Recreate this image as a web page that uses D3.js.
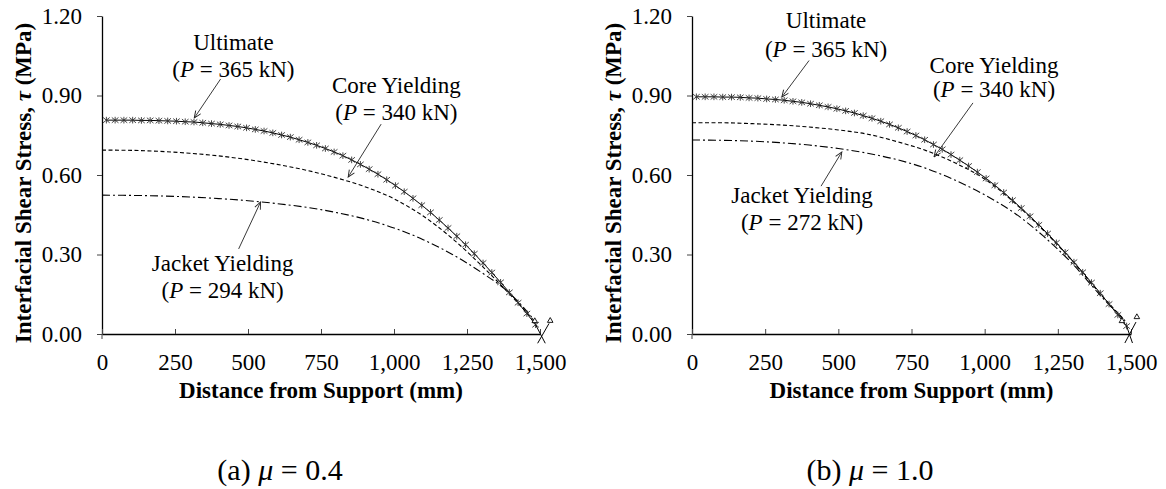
<!DOCTYPE html>
<html>
<head>
<meta charset="utf-8">
<script src="https://cdn.jsdelivr.net/npm/d3@7"></script>
<style>
  body { margin: 0; background: #fff; }
  svg text { font-family: "Liberation Serif", "Times New Roman", serif; fill: #000; }
</style>
</head>
<body>
<svg id="chart" width="1166" height="489"></svg>
<script>
// ---- data ----
const xTicks = [0, 250, 500, 750, 1000, 1250, 1500];
const yTicks = [0, 0.3, 0.6, 0.9, 1.2];

// ultimate curve stations (mm) and shear stress (MPa)
const ultDist = [15, 45, 75, 105, 135, 165, 195, 225, 255, 285, 315, 345, 375, 405, 435, 465, 495,
  525, 555, 585, 615, 645, 675, 705, 735, 765, 795, 825, 855, 885, 915, 945, 975, 1005, 1035,
  1065, 1095, 1125, 1155, 1185, 1215, 1245, 1275, 1305, 1335, 1365, 1395, 1425, 1455, 1485];
const ultTauA = [0.807, 0.807, 0.807, 0.807, 0.806, 0.806, 0.805, 0.804, 0.803, 0.801, 0.800,
  0.797, 0.794, 0.791, 0.787, 0.783, 0.778, 0.772, 0.766, 0.759, 0.751, 0.743, 0.733, 0.723,
  0.712, 0.700, 0.687, 0.673, 0.657, 0.640, 0.622, 0.603, 0.582, 0.560, 0.537, 0.512, 0.486,
  0.459, 0.430, 0.400, 0.369, 0.337, 0.303, 0.268, 0.232, 0.195, 0.157, 0.118, 0.077, 0.035];
const ultTauB = [0.895, 0.895, 0.895, 0.894, 0.894, 0.893, 0.891, 0.890, 0.887, 0.885, 0.882,
  0.878, 0.874, 0.869, 0.863, 0.857, 0.850, 0.842, 0.834, 0.824, 0.814, 0.803, 0.791, 0.778,
  0.764, 0.749, 0.733, 0.715, 0.697, 0.677, 0.656, 0.634, 0.611, 0.587, 0.561, 0.534, 0.505,
  0.475, 0.444, 0.412, 0.379, 0.344, 0.308, 0.271, 0.233, 0.194, 0.154, 0.113, 0.072, 0.030];

// yielding curves
const yieldDist = [0, 100, 200, 300, 400, 500, 600, 700, 800, 900, 1000, 1100, 1200, 1300, 1400, 1480];
const coreTauA = [0.694, 0.693, 0.689, 0.682, 0.672, 0.658, 0.640, 0.618, 0.590, 0.556, 0.510,
  0.445, 0.360, 0.258, 0.146, 0.050];
const jacketTauA = [0.524, 0.523, 0.521, 0.517, 0.511, 0.503, 0.492, 0.478, 0.459, 0.434, 0.400,
  0.356, 0.300, 0.232, 0.150, 0.053];
const coreTauB = [0.797, 0.797, 0.794, 0.789, 0.781, 0.770, 0.754, 0.726, 0.692, 0.645, 0.585,
  0.497, 0.392, 0.275, 0.145, 0.050];
const jacketTauB = [0.732, 0.731, 0.728, 0.722, 0.713, 0.700, 0.682, 0.658, 0.625, 0.580, 0.525,
  0.458, 0.370, 0.265, 0.140, 0.050];

// odd end marks near the support at 1,500 mm
const endTriA = [[1482, 0.049], [1535, 0.050]];
const endTriB = [[1469, 0.049], [1520, 0.064]];
const crossA = [[[1531, 0.040], [1492, -0.035]], [[1485, 0.035], [1518, -0.035]]];
const crossB = [[[1517, 0.045], [1479, -0.034]], [[1485, 0.030], [1505, -0.034]]];

// annotations: label, load, text centre x, baselines, arrow from -> to (data units)
const notesA = [
  { label: "Ultimate", load: "365", x: 450, y1: 1.072, y2: 0.970, from: [406, 0.962], to: [316, 0.815] },
  { label: "Core Yielding", load: "340", x: 1008, y1: 0.909, y2: 0.808, from: [956, 0.792], to: [843, 0.592] },
  { label: "Jacket Yielding", load: "294", x: 413, y1: 0.238, y2: 0.136, from: [468, 0.321], to: [543, 0.498] }
];
const notesB = [
  { label: "Ultimate", load: "365", x: 458, y1: 1.155, y2: 1.045, from: [400, 1.032], to: [307, 0.894] },
  { label: "Core Yielding", load: "340", x: 1032, y1: 0.985, y2: 0.894, from: [960, 0.872], to: [827, 0.668] },
  { label: "Jacket Yielding", load: "272", x: 376, y1: 0.494, y2: 0.392, from: [441, 0.558], to: [512, 0.687] }
];

const panels = [
  { left: 102, right: 540, caption: "(a) ", mu: "0.4", capX: 280,
    ult: ultTauA, core: coreTauA, jacket: jacketTauA, tri: endTriA, cross: crossA, notes: notesA },
  { left: 692, right: 1131, caption: "(b) ", mu: "1.0", capX: 870,
    ult: ultTauB, core: coreTauB, jacket: jacketTauB, tri: endTriB, cross: crossB, notes: notesB }
];

const plotTop = 16, plotBottom = 334;
const svg = d3.select("#chart");

svg.append("defs").append("marker")
  .attr("id", "arrow")
  .attr("viewBox", "-9 -5 10 10")
  .attr("refX", 0).attr("refY", 0)
  .attr("markerWidth", 10).attr("markerHeight", 10)
  .attr("markerUnits", "userSpaceOnUse")
  .attr("orient", "auto")
  .append("path")
  .attr("d", "M-7,-3L0,0L-7,3")
  .attr("fill", "none")
  .attr("stroke", "#222")
  .attr("stroke-width", 0.9);

// asterisk-like marker
const starMark = {
  draw(ctx, size) {
    const r = Math.sqrt(size) / 2;
    ctx.moveTo(-r, -r * 0.8); ctx.lineTo(r, r * 0.8);
    ctx.moveTo(-r, r * 0.8); ctx.lineTo(r, -r * 0.8);
    ctx.moveTo(0, -r); ctx.lineTo(0, r);
  }
};

panels.forEach((p) => {
  const x = d3.scaleLinear([0, 1500], [p.left, p.right]);
  const y = d3.scaleLinear([0, 1.2], [plotBottom, plotTop]);
  const g = svg.append("g");

  // axes
  const yAxis = g.append("g")
    .attr("transform", `translate(${p.left},0)`)
    .call(d3.axisLeft(y).tickValues(yTicks).tickFormat(d3.format(".2f"))
      .tickSizeInner(5).tickSizeOuter(0).tickPadding(15));
  const xAxis = g.append("g")
    .attr("transform", `translate(0,${plotBottom})`)
    .call(d3.axisBottom(x).tickValues(xTicks).tickFormat(d3.format(","))
      .tickSizeInner(-5).tickSizeOuter(0).tickPadding(20));
  [yAxis, xAxis].forEach((a) => {
    a.select(".domain").attr("stroke", "#000").attr("stroke-width", 1.3);
    a.selectAll(".tick line").attr("stroke", "#444").attr("stroke-width", 1);
    a.selectAll(".tick text").attr("font-size", 23)
      .attr("font-family", "'Liberation Serif', 'Times New Roman', serif");
  });
  g.append("line")
    .attr("x1", p.left).attr("x2", p.left)
    .attr("y1", plotBottom).attr("y2", plotBottom + 5)
    .attr("stroke", "#444");

  // axis titles
  g.append("text")
    .attr("x", (p.left + p.right) / 2)
    .attr("y", 398)
    .attr("text-anchor", "middle")
    .attr("font-size", 23)
    .attr("font-weight", "bold")
    .text("Distance from Support (mm)");

  const yt = g.append("text")
    .attr("transform", `translate(${p.left - 71},${(plotTop + plotBottom) / 2 + 8}) rotate(-90)`)
    .attr("text-anchor", "middle")
    .attr("font-size", 23)
    .attr("font-weight", "bold");
  yt.append("tspan").text("Interfacial Shear Stress, ");
  yt.append("tspan").attr("font-style", "italic").text("τ");
  yt.append("tspan").text(" (MPa)");

  // curves
  const smooth = d3.line().x((d) => x(d[0])).y((d) => y(d[1])).curve(d3.curveMonotoneX);
  const straight = d3.line().x((d) => x(d[0])).y((d) => y(d[1]));

  const ultPts = ultDist.map((d, i) => [d, p.ult[i]]);
  const corePts = yieldDist.map((d, i) => [d, p.core[i]]);
  const jacketPts = yieldDist.map((d, i) => [d, p.jacket[i]]);

  g.append("path").datum(jacketPts)
    .attr("d", smooth).attr("fill", "none")
    .attr("stroke", "#000").attr("stroke-width", 1.1)
    .attr("stroke-dasharray", "8,3,2,3");
  g.append("path").datum(corePts)
    .attr("d", smooth).attr("fill", "none")
    .attr("stroke", "#000").attr("stroke-width", 1.1)
    .attr("stroke-dasharray", "4,2.5");
  g.append("path").datum(ultPts)
    .attr("d", straight).attr("fill", "none")
    .attr("stroke", "#000").attr("stroke-width", 1);

  g.selectAll(".ultMark").data(ultPts).join("path")
    .attr("class", "ultMark")
    .attr("transform", (d) => `translate(${x(d[0])},${y(d[1])})`)
    .attr("d", d3.symbol().type(starMark).size(44))
    .attr("fill", "none").attr("stroke", "#333").attr("stroke-width", 0.9);

  p.cross.forEach((seg) => {
    g.append("path").datum(seg)
      .attr("d", straight).attr("fill", "none")
      .attr("stroke", "#000").attr("stroke-width", 1);
  });
  g.selectAll(".tri").data(p.tri).join("path")
    .attr("class", "tri")
    .attr("transform", (d) => `translate(${x(d[0])},${y(d[1])})`)
    .attr("d", d3.symbol().type(d3.symbolTriangle2).size(22))
    .attr("fill", "#fff").attr("stroke", "#000").attr("stroke-width", 0.9);

  // annotations
  p.notes.forEach((n) => {
    g.append("line")
      .attr("x1", x(n.from[0])).attr("y1", y(n.from[1]))
      .attr("x2", x(n.to[0])).attr("y2", y(n.to[1]))
      .attr("stroke", "#222").attr("stroke-width", 0.9)
      .attr("marker-end", "url(#arrow)");
    g.append("text")
      .attr("x", x(n.x)).attr("y", y(n.y1))
      .attr("text-anchor", "middle").attr("font-size", 23)
      .text(n.label);
    const t2 = g.append("text")
      .attr("x", x(n.x)).attr("y", y(n.y2))
      .attr("text-anchor", "middle").attr("font-size", 23);
    t2.append("tspan").text("(");
    t2.append("tspan").attr("font-style", "italic").text("P");
    t2.append("tspan").text(` = ${n.load} kN)`);
  });

  // sub-caption
  const cap = g.append("text")
    .attr("x", p.capX).attr("y", 480)
    .attr("text-anchor", "middle").attr("font-size", 30);
  cap.append("tspan").text(p.caption);
  cap.append("tspan").attr("font-style", "italic").text("μ");
  cap.append("tspan").text(` = ${p.mu}`);
});
</script>
</body>
</html>
